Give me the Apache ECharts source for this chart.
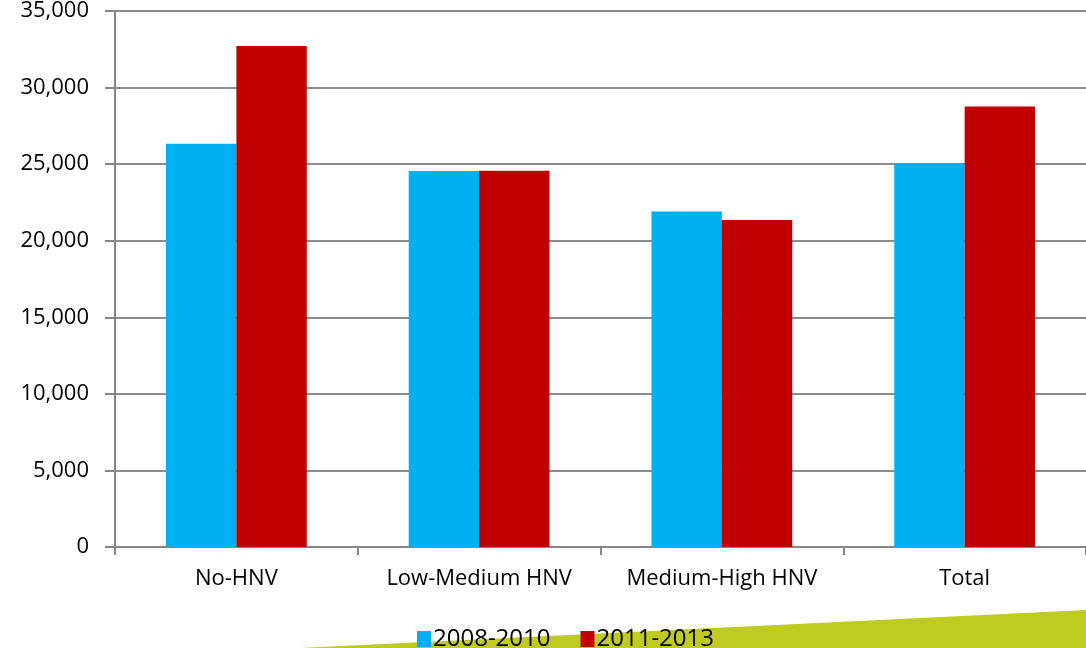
<!DOCTYPE html>
<html>
<head>
<meta charset="utf-8">
<script src="https://cdn.jsdelivr.net/npm/echarts@6/dist/echarts.min.js"></script>
<style>
html,body{margin:0;padding:0;background:#fff;}
#c{width:1086px;height:648px;}
</style>
</head>
<body>
<div id="c"></div>
<script>
const categories = ['No-HNV', 'Low-Medium HNV', 'Medium-High HNV', 'Total'];
const seriesNames = ['2008-2010', '2011-2013'];
const values2008_2010 = [26330, 24550, 21900, 25040];
const values2011_2013 = [32720, 24570, 21360, 28760];
const yTicks = { min: 0, max: 35000, interval: 5000 };

const chart = echarts.init(document.getElementById('c'), null, { renderer: 'canvas' });
const font = '"Open Sans", "Liberation Sans", sans-serif';
chart.setOption({
  animation: false,
  backgroundColor: '#ffffff',
  grid: { left: 115, top: 11, right: 0, bottom: 101, containLabel: false },
  legend: {
    data: seriesNames,
    left: 412,
    top: 622,
    itemWidth: 14,
    itemHeight: 16,
    itemGap: 30,
    icon: 'rect',
    textStyle: { fontFamily: font, fontSize: 24, color: '#000', padding: [0, 0, 0, -3] }
  },
  xAxis: {
    type: 'category',
    data: categories,
    axisLine: { lineStyle: { color: '#868686', width: 2 } },
    axisTick: { show: true, length: 8, lineStyle: { color: '#868686', width: 2 } },
    axisLabel: { fontFamily: font, fontSize: 22, color: '#000', margin: 21, interval: 0 }
  },
  yAxis: {
    type: 'value',
    min: yTicks.min,
    max: yTicks.max,
    interval: yTicks.interval,
    axisLine: { show: true, lineStyle: { color: '#868686', width: 2 } },
    axisTick: { show: true, length: 10, lineStyle: { color: '#868686', width: 2 } },
    splitLine: { lineStyle: { color: '#8c8c8c', width: 2 } },
    axisLabel: {
      fontFamily: font, fontSize: 22, color: '#000', margin: 26,
      formatter: v => v.toLocaleString('en-US')
    }
  },
  series: [
    { name: seriesNames[0], type: 'bar', data: values2008_2010, barGap: '0%', barCategoryGap: '42%',
      itemStyle: { color: '#00b0f0' } },
    { name: seriesNames[1], type: 'bar', data: values2011_2013, barGap: '0%', barCategoryGap: '42%',
      itemStyle: { color: '#c00000' } }
  ],
  graphic: [
    { type: 'polygon', z: -1, silent: true,
      shape: { points: [[300, 648], [1086, 610], [1086, 648]] },
      style: { fill: '#c0cb22' } }
  ]
});
</script>
</body>
</html>
